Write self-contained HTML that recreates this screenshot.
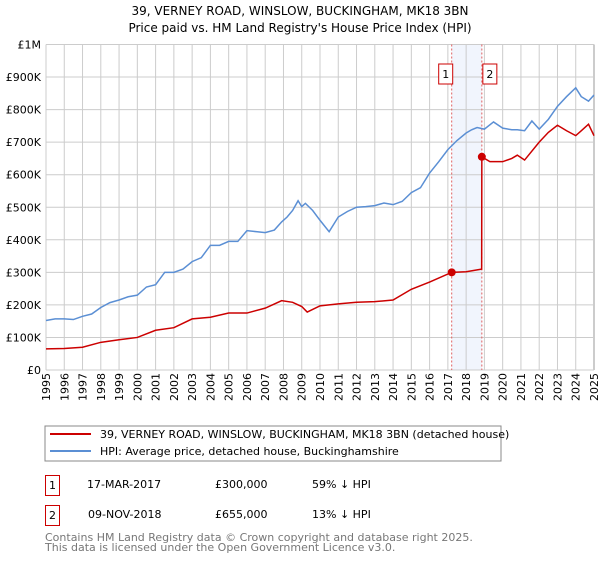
<!DOCTYPE html>
<html><head><meta charset="utf-8">
<style>
body{margin:0;background:#fff;font-family:"DejaVu Sans","Liberation Sans",sans-serif;}
svg text{font-family:"DejaVu Sans","Liberation Sans",sans-serif;}
</style></head>
<body>
<svg id="c" width="600" height="560" xmlns="http://www.w3.org/2000/svg">
<text x="300" y="15" text-anchor="middle" font-size="12" fill="#000">39, VERNEY ROAD, WINSLOW, BUCKINGHAM, MK18 3BN</text>
<text x="300" y="32" text-anchor="middle" font-size="12" fill="#000">Price paid vs. HM Land Registry's House Price Index (HPI)</text>
<g id="grid"></g>
<g id="marks"></g>
<g id="axes"></g>
<rect x="45" y="426" width="456" height="35" fill="#fff" stroke="#888"/>
<line x1="50" y1="434" x2="91" y2="434" stroke="#cc0000" stroke-width="2"/>
<text x="100" y="438" font-size="11">39, VERNEY ROAD, WINSLOW, BUCKINGHAM, MK18 3BN (detached house)</text>
<line x1="50" y1="451" x2="91" y2="451" stroke="#5b8fd4" stroke-width="2"/>
<text x="100" y="455" font-size="11">HPI: Average price, detached house, Buckinghamshire</text>
<rect x="45.5" y="475.5" width="14" height="20" fill="#fff" stroke="#cc0000"/>
<text x="52.5" y="489" font-size="11" text-anchor="middle">1</text>
<text x="87" y="488" font-size="11">17-MAR-2017</text>
<text x="215" y="488" font-size="11">£300,000</text>
<text x="312" y="488" font-size="11">59% ↓ HPI</text>
<rect x="45.5" y="505.5" width="14" height="20" fill="#fff" stroke="#cc0000"/>
<text x="52.5" y="519" font-size="11" text-anchor="middle">2</text>
<text x="88" y="518" font-size="11">09-NOV-2018</text>
<text x="215" y="518" font-size="11">£655,000</text>
<text x="312" y="518" font-size="11">13% ↓ HPI</text>
<text x="45" y="541" font-size="11" fill="#777">Contains HM Land Registry data © Crown copyright and database right 2025.</text>
<text x="45" y="551" font-size="11" fill="#777">This data is licensed under the Open Government Licence v3.0.</text>
</svg>
<script>
const hpiYears=[1995,1995.5,1996,1996.5,1997,1997.5,1998,1998.5,1999,1999.5,2000,2000.5,2001,2001.5,2002,2002.5,2003,2003.5,2004,2004.5,2005,2005.5,2006,2006.5,2007,2007.5,2007.9,2008.2,2008.5,2008.8,2009,2009.2,2009.6,2010,2010.5,2011,2011.5,2012,2012.5,2013,2013.5,2014,2014.5,2015,2015.5,2016,2016.5,2017,2017.5,2018,2018.3,2018.6,2019,2019.5,2020,2020.5,2020.8,2021.2,2021.6,2022,2022.5,2023,2023.5,2024,2024.3,2024.7,2025];
const hpiValues=[152,157,157,155,165,172,192,207,215,225,230,255,262,300,300,310,333,345,383,383,395,395,428,425,422,430,455,470,490,520,502,512,490,460,425,470,487,500,502,505,513,508,518,545,560,605,640,677,705,728,738,745,740,762,743,738,738,735,765,740,770,810,840,867,840,826,845,867,836];
const priceYears=[1995,1996,1997,1998,1999,2000,2001,2002,2003,2004,2005,2006,2007,2007.9,2008.5,2009,2009.3,2010,2011,2012,2013,2014,2015,2016,2017.21,2018,2018.85,2018.86,2019.3,2020,2020.5,2020.8,2021.2,2022,2022.5,2023,2023.5,2024,2024.3,2024.7,2025];
const priceValues=[65,66,70,85,93,100,122,130,157,162,175,175,190,213,208,195,178,197,203,208,210,215,248,270,300,302,310,655,640,640,650,660,645,700,730,752,735,720,735,755,720];
const saleYears=[2017.21,2018.86];
const saleValues=[300,655];
const yTicks=[0,100,200,300,400,500,600,700,800,900,1000];
const yTickLabels=["£0","£100K","£200K","£300K","£400K","£500K","£600K","£700K","£800K","£900K","£1M"];

const NS="http://www.w3.org/2000/svg";
const X0=46,X1=594,Y0=370,Y1=44.5;
const x=y=>X0+(y-1995)/30*(X1-X0);
const yv=v=>Y0-v/1000*(Y0-Y1);
function mk(tag,attrs,parent){const e=document.createElementNS(NS,tag);for(const k in attrs)e.setAttribute(k,attrs[k]);document.getElementById(parent).appendChild(e);return e;}

let band=mk('rect',{x:x(saleYears[0]),y:Y1,width:x(saleYears[1])-x(saleYears[0]),height:Y0-Y1,fill:'#eef3fc',opacity:0.8},'grid');


for(let yr=1995;yr<=2025;yr++){
  let l=mk('line',{x1:x(yr),x2:x(yr),y1:Y1,y2:Y0,stroke:yr==2025?'#999':'#ccc','stroke-width':1},'grid');
  
  
  let t=mk('text',{x:0,y:0,'font-size':11,'text-anchor':'end',transform:`translate(${x(yr)+4},${Y0+3}) rotate(-90)`},'axes');
  t.textContent=yr;
  
  
}
yTicks.forEach((v,i)=>{
  let l=mk('line',{x1:X0,x2:X1,y1:yv(v),y2:yv(v),stroke:'#ccc','stroke-width':1},'grid');
  
  
  let t=mk('text',{x:41,y:yv(v)+4,'font-size':11,'text-anchor':'end'},'axes');
  t.textContent=yTickLabels[i];
  
  
});
saleYears.forEach((s,i)=>{
  let l=mk('line',{x1:x(s),x2:x(s),y1:Y1,y2:Y0,stroke:'#e06060','stroke-width':1,'stroke-dasharray':'2,2'},'grid');
  
  
  let r=mk('rect',{x:x(s)-(i?-1:13),y:64,width:14,height:20,fill:'#fff',stroke:'#cc0000'},'axes');
  
  
  let t=mk('text',{x:x(s)-(i?-8:6),y:78,'font-size':11,'text-anchor':'middle'},'axes');
  t.textContent=String(i+1);
  
  
});
let hp=mk('polyline',{points:hpiYears.map((y,i)=>x(y)+','+yv(hpiValues[i])).join(' '),fill:'none',stroke:'#5b8fd4','stroke-width':1.5},'marks');


let pp=mk('polyline',{points:priceYears.map((y,i)=>x(y)+','+yv(priceValues[i])).join(' '),fill:'none',stroke:'#cc0000','stroke-width':1.5},'marks');


saleYears.forEach((s,i)=>{
  let c=mk('circle',{cx:x(s),cy:yv(saleValues[i]),r:4,fill:'#cc0000'},'marks');
  
  
});
</script>
</body></html>
